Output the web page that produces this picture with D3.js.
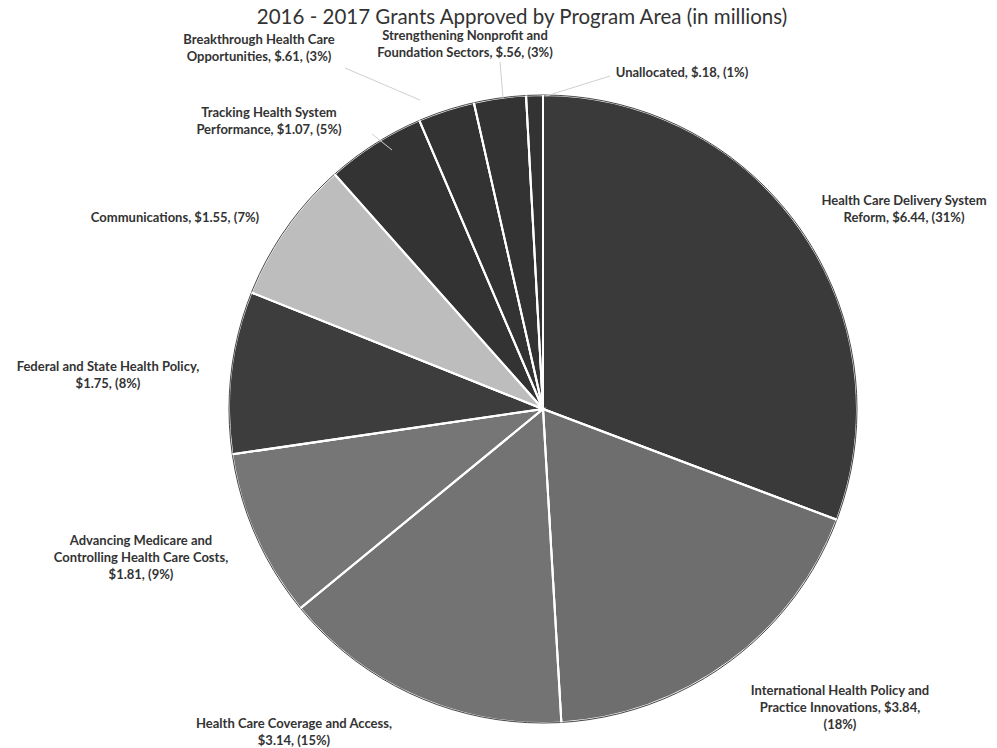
<!DOCTYPE html>
<html>
<head>
<meta charset="utf-8">
<script src="https://cdn.jsdelivr.net/npm/d3@7"></script>
<style>
  body { margin: 0; background: #fff; }
  text { font-family: Lato, "Open Sans", sans-serif; }
</style>
</head>
<body>
<svg></svg>
<script>
// program areas, clockwise from 12 o'clock
const areas = ['Health Care Delivery System Reform', 'International Health Policy and Practice Innovations',
  'Health Care Coverage and Access', 'Advancing Medicare and Controlling Health Care Costs',
  'Federal and State Health Policy', 'Communications', 'Tracking Health System Performance',
  'Breakthrough Health Care Opportunities', 'Strengthening Nonprofit and Foundation Sectors', 'Unallocated'];
const amounts = [6.44, 3.84, 3.14, 1.81, 1.75, 1.55, 1.07, 0.61, 0.56, 0.18];
const amountLabels = ['$6.44', '$3.84', '$3.14', '$1.81', '$1.75', '$1.55', '$1.07', '$.61', '$.56', '$.18'];
const pctLabels = ['(31%)', '(18%)', '(15%)', '(9%)', '(8%)', '(7%)', '(5%)', '(3%)', '(3%)', '(1%)'];
const labelLines = [
  ['Health Care Delivery System', 'Reform, {a}, {p}'],
  ['International Health Policy and', 'Practice Innovations, {a},', '{p}'],
  ['Health Care Coverage and Access,', '{a}, {p}'],
  ['Advancing Medicare and', 'Controlling Health Care Costs,', '{a}, {p}'],
  ['Federal and State Health Policy,', '{a}, {p}'],
  ['Communications, {a}, {p}'],
  ['Tracking Health System', 'Performance, {a}, {p}'],
  ['Breakthrough Health Care', 'Opportunities, {a}, {p}'],
  ['Strengthening Nonprofit and', 'Foundation Sectors, {a}, {p}'],
  ['Unallocated, {a}, {p}']
];

const WIDTH = 997;
const HEIGHT = 748;
const CX = 543, CY = 409, R = 314;

const colours = ['#3a3a3a', '#6e6e6e', '#737373', '#767676', '#3d3d3d', '#bdbdbd', '#333333', '#333333', '#333333', '#333333'];

// label anchor (baseline of first line) per slice
const labelPos = [[904, 205], [840, 695], [294, 728], [141, 545], [108, 371], [175, 222],
  [269, 117], [259, 44], [465, 40], [682, 77]];
// faint leader lines: from label end to slice edge
const leaders = {7: [[345, 68], [420, 100]], 8: [[500, 62], [503, 98]], 9: [[610, 76], [546, 96]], 6: [[372, 134], [392, 150]]};

let svg = d3.select('svg').attr('width', WIDTH).attr('height', HEIGHT);

svg.append('text')
  .attr('x', 522).attr('y', 24)
  .attr('text-anchor', 'middle')
  .style('font-size', '20.5px').style('fill', '#333')
  .text('2016 - 2017 Grants Approved by Program Area (in millions)');

let pie = d3.pie().sort(null).value(d => d);
let arc = d3.arc().innerRadius(0).outerRadius(R);
let arcs = pie(amounts);

let g = svg.append('g').attr('transform', `translate(${CX},${CY})`);
g.selectAll('path').data(arcs).enter().append('path')
  .attr('d', arc)
  .style('fill', (d, i) => colours[i])
  .style('stroke', '#fff').style('stroke-width', 2);

// thin dark rim
g.append('circle').attr('r', R).style('fill', 'none').style('stroke', '#444').style('stroke-width', 1);
g.selectAll('path.sep').data(arcs).enter().append('path')
  .attr('class', 'sep')
  .attr('d', d => { let a = d.startAngle; return `M0,0L${R * Math.sin(a)},${-R * Math.cos(a)}`; })
  .style('stroke', '#fff').style('stroke-width', 2);

Object.keys(leaders).forEach(k => {
  let l = leaders[k];
  svg.append('line').attr('x1', l[0][0]).attr('y1', l[0][1]).attr('x2', l[1][0]).attr('y2', l[1][1])
    .style('stroke', '#d0d0d0').style('stroke-width', 1);
});

areas.forEach((a, i) => {
  let t = svg.append('text')
    .attr('text-anchor', 'middle')
    .style('font-size', '13px').style('font-weight', 'bold').style('fill', '#333');
  labelLines[i].forEach((line, j) => {
    t.append('tspan')
      .attr('x', labelPos[i][0]).attr('y', labelPos[i][1] + j * 16.8)
      .text(line.replace('{a}', amountLabels[i]).replace('{p}', pctLabels[i]));
  });
});
</script>
</body>
</html>
